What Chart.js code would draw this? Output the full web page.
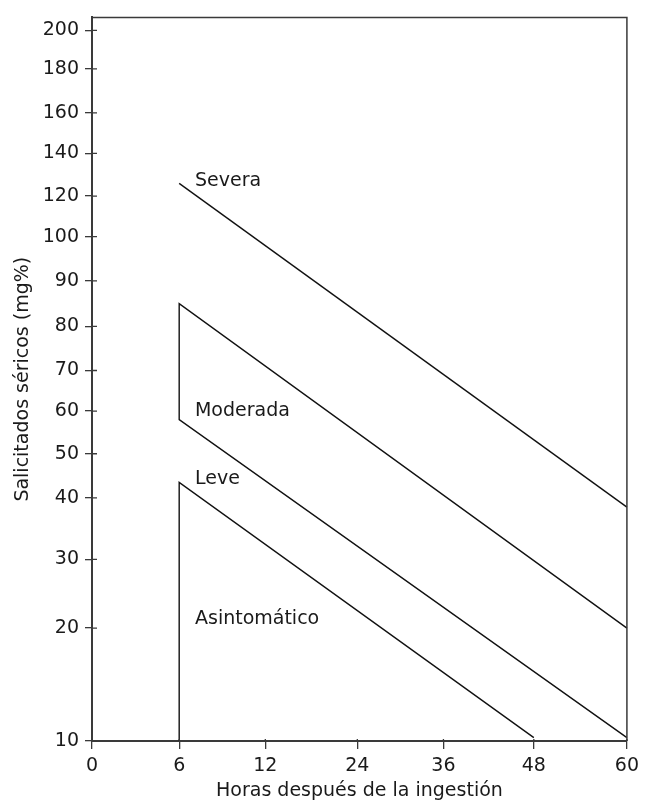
<!DOCTYPE html>
<html>
<head>
<meta charset="utf-8">
<script src="https://cdn.jsdelivr.net/npm/chart.js@4/dist/chart.umd.min.js"></script>
<style>
  html, body { margin: 0; padding: 0; background: #fff; }
  #wrap { width: 645px; height: 802px; }
</style>
</head>
<body>
<div id="wrap"><canvas id="nomograma"></canvas></div>
<script>
// tick values and where each one sits along its axis (0 = start, 1 = end)
const hourTicks = [0, 6, 12, 24, 36, 48, 60];
const hourTickPlace = [0, 0.163, 0.324, 0.496, 0.657, 0.826, 1];
const levelTicks = [10, 20, 30, 40, 50, 60, 70, 80, 90, 100, 120, 140, 160, 180, 200, 206];
const levelTickPlace = [0, 0.156, 0.251, 0.336, 0.397, 0.456, 0.512, 0.573, 0.636, 0.697, 0.753, 0.812, 0.868, 0.929, 0.982, 1];

// boundary lines
const severaHours = [6, 60];
const severaLevels = [126, 38.5];
const moderadaHours = [60, 6, 6, 60];
const moderadaLevels = [20, 85, 58, 10.3];
const leveHours = [6, 6, 48];
const leveLevels = [10, 43.5, 10.3];

// zone names
const zoneNames = ["Severa", "Moderada", "Leve", "Asintomático"];
const zoneHours = [7.1, 7.1, 7.1, 7.1];
const zoneLevels = [127, 60, 44.3, 21.3];

const stops = {
    x: { values: hourTicks, place: hourTickPlace },
    y: { values: levelTicks, place: levelTickPlace }
};

class StopScale extends Chart.LinearScale {
    buildTicks() {
        const s = stops[this.axis];
        return s.values.filter(v => v <= 200).map(v => ({ value: v }));
    }
    toDecimal(v) {
        const s = stops[this.axis];
        const vs = s.values, ps = s.place;
        if (v <= vs[0]) return ps[0];
        for (let i = 1; i < vs.length; i++) {
            if (v <= vs[i]) {
                return ps[i - 1] + (v - vs[i - 1]) / (vs[i] - vs[i - 1]) * (ps[i] - ps[i - 1]);
            }
        }
        return ps[ps.length - 1];
    }
    getPixelForValue(v) {
        return this.getPixelForDecimal(this.toDecimal(v));
    }
    getValueForPixel(p) {
        const d = this.getDecimalForPixel(p);
        const s = stops[this.axis];
        for (let i = 1; i < s.place.length; i++) {
            if (d <= s.place[i]) {
                return s.values[i - 1] + (d - s.place[i - 1]) / (s.place[i] - s.place[i - 1]) * (s.values[i] - s.values[i - 1]);
            }
        }
        return s.values[s.values.length - 1];
    }
}
StopScale.id = "stops";
StopScale.defaults = {};
Chart.register(StopScale);

const ink = "#111";
const axisInk = "#3a3a3a";
const textInk = "#1a1a1a";
const font = { family: "'DejaVu Sans', sans-serif", size: 19 };

const frame = {
    id: "frame",
    afterDraw(chart) {
        const ctx = chart.ctx;
        const a = chart.chartArea;
        const sx = chart.scales.x, sy = chart.scales.y;
        ctx.save();
        ctx.strokeStyle = axisInk;
        ctx.lineWidth = 1.5;
        ctx.beginPath();
        ctx.moveTo(a.left, a.top);
        ctx.lineTo(a.right, a.top);
        ctx.lineTo(a.right, a.bottom);
        ctx.stroke();
        // tick stubs crossing into the plot
        ctx.lineWidth = 1.3;
        ctx.beginPath();
        sy.ticks.forEach((t, i) => {
            const y = sy.getPixelForTick(i);
            ctx.moveTo(a.left, y);
            ctx.lineTo(a.left + 5, y);
        });
        sx.ticks.forEach((t, i) => {
            const x = sx.getPixelForTick(i);
            ctx.moveTo(x, a.bottom);
            ctx.lineTo(x, a.bottom - 2);
        });
        ctx.stroke();
        // zone names
        ctx.fillStyle = textInk;
        ctx.font = "19px 'DejaVu Sans', sans-serif";
        ctx.textBaseline = "middle";
        ctx.textAlign = "left";
        zoneNames.forEach((name, i) => {
            ctx.fillText(name, sx.getPixelForValue(zoneHours[i]), sy.getPixelForValue(zoneLevels[i]));
        });
        ctx.restore();
    }
};

function line(hours, levels) {
    return {
        data: hours.map((h, i) => ({ x: h, y: levels[i] })),
        showLine: true,
        borderColor: ink,
        borderWidth: 1.4,
        pointRadius: 0,
        tension: 0,
        fill: false,
        clip: false
    };
}

new Chart(document.getElementById("nomograma"), {
    type: "scatter",
    data: {
        datasets: [
            line(severaHours, severaLevels),
            line(moderadaHours, moderadaLevels),
            line(leveHours, leveLevels)
        ]
    },
    options: {
        responsive: true,
        maintainAspectRatio: false,
        animation: false,
        layout: { padding: { top: 11, right: 17, bottom: 0, left: 0 } },
        plugins: {
            legend: { display: false },
            tooltip: { enabled: false }
        },
        scales: {
            x: {
                type: "stops",
                min: 0,
                max: 60,
                afterFit(scale) { scale.height = 61; },
                grid: { drawOnChartArea: false, drawTicks: true, tickLength: 8, color: axisInk, lineWidth: 1.3 },
                border: { color: axisInk, width: 2 },
                ticks: { autoSkip: false, maxRotation: 0, padding: 6, color: textInk, font: font, callback: v => String(v) },
                title: {
                    display: true,
                    text: "Horas después de la ingestión",
                    color: textInk,
                    font: font,
                    padding: { top: 0, bottom: 0 }
                }
            },
            y: {
                type: "stops",
                min: 10,
                max: 206,
                afterFit(scale) { scale.width = 92; },
                grid: { drawOnChartArea: false, drawTicks: true, tickLength: 7, color: axisInk, lineWidth: 1.3 },
                border: { color: axisInk, width: 2 },
                ticks: { autoSkip: false, padding: 6, color: textInk, font: font, callback: v => String(v) },
                title: {
                    display: true,
                    text: "Salicitados séricos (mg%)",
                    color: textInk,
                    font: font,
                    padding: { top: 12, bottom: 0 }
                }
            }
        }
    },
    plugins: [frame]
});
</script>
</body>
</html>
